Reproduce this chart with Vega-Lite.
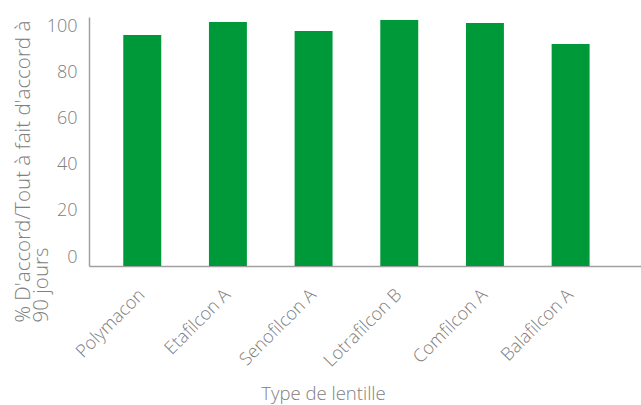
{
  "$schema": "https://vega.github.io/schema/vega-lite/v6.json",
  "autosize": "none",
  "width": 552,
  "height": 249,
  "padding": {"left": 89, "top": 17, "right": 0, "bottom": 139},
  "background": "white",
  "config": {
    "view": {"stroke": null},
    "font": "Open Sans",
    "axis": {
      "labelFont": "Open Sans",
      "titleFont": "Open Sans",
      "labelColor": "#808080",
      "titleColor": "#808080",
      "titleFontWeight": 300,
      "labelFontWeight": 300,
      "domainColor": "#a0a0a0",
      "domainWidth": 1.5,
      "grid": false,
      "ticks": false,
      "tickSize": 0
    }
  },
  "data": {
    "values": [
      {"lentille": "Polymacon", "valeur": 96.5},
      {"lentille": "Etafilcon A", "valeur": 102.1},
      {"lentille": "Senofilcon A", "valeur": 98.2},
      {"lentille": "Lotrafilcon B", "valeur": 103.0},
      {"lentille": "Comfilcon A", "valeur": 101.7},
      {"lentille": "Balafilcon A", "valeur": 92.6}
    ]
  },
  "mark": {"type": "bar", "color": "#00993a"},
  "encoding": {
    "x": {
      "field": "lentille",
      "type": "nominal",
      "sort": null,
      "scale": {"paddingInner": 0.557, "paddingOuter": 0.5, "align": 0.4},
      "axis": {
        "title": "Type de lentille",
        "titleFontSize": 18.5,
        "titleX": 234,
        "titleY": 127,
        "titleBaseline": "middle",
        "titleAnchor": null,
        "labelAngle": -45,
        "labelAlign": "right",
        "labelBaseline": "middle",
        "labelFontSize": 18,
        "labelPadding": 26
      }
    },
    "y": {
      "field": "valeur",
      "type": "quantitative",
      "scale": {"domain": [-3.9, 104.3], "nice": false, "zero": false},
      "axis": {
        "title": ["% D'accord/Tout à fait d'accord à", "90 jours"],
        "titleFontSize": 20.5,
        "titleLineHeight": 18.5,
        "titleAlign": "left",
        "titleBaseline": "middle",
        "titleAngle": -90,
        "titleX": -66,
        "titleY": 305,
        "values": [0, 20, 40, 60, 80, 100],
        "labelFontSize": 18,
        "labelPadding": 12,
        "labelBaseline": "middle"
      }
    },
    "y2": {"datum": -3.9}
  }
}
